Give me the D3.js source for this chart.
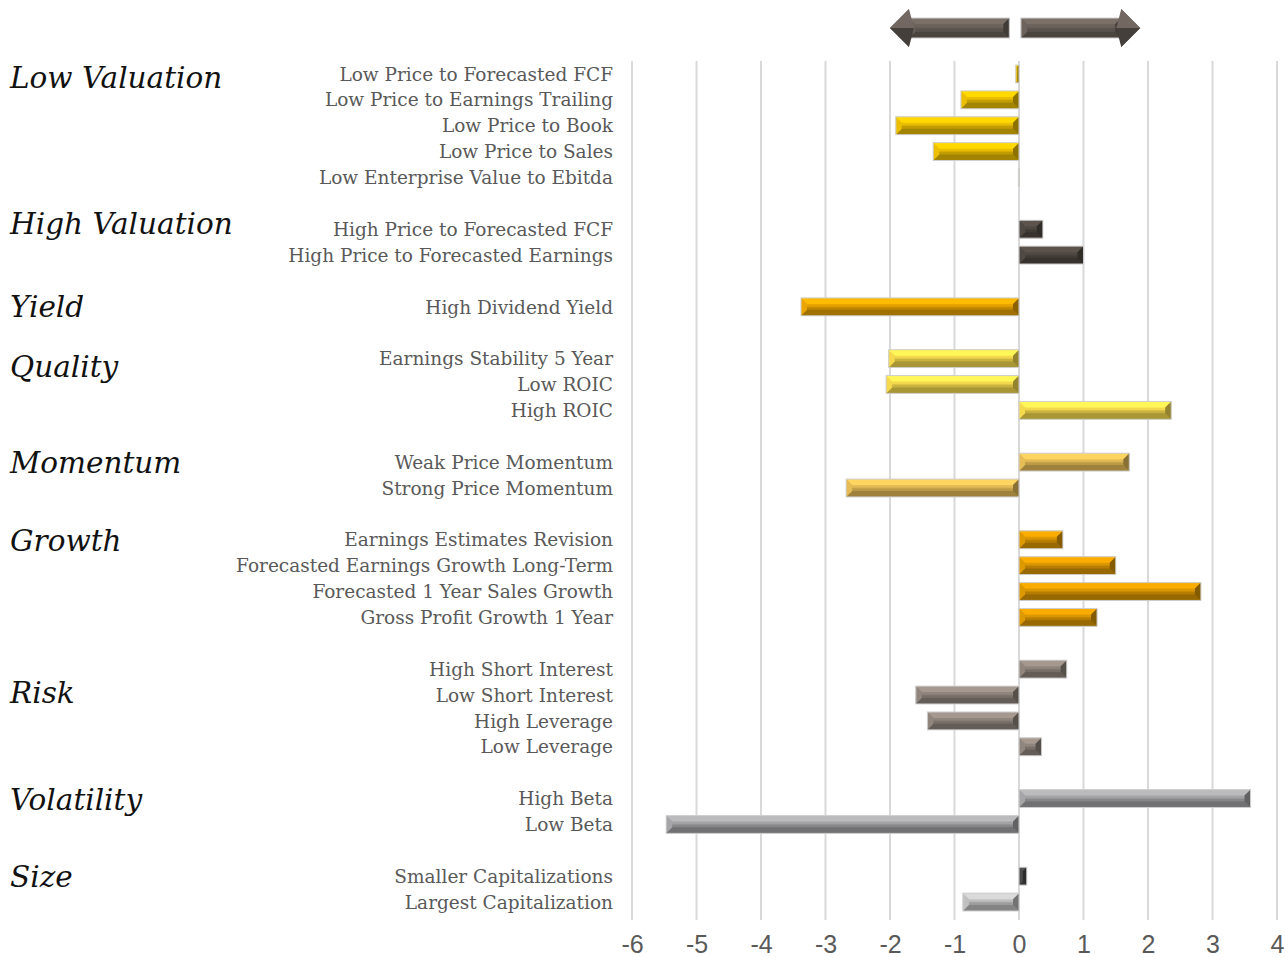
<!DOCTYPE html>
<html>
<head>
<meta charset="utf-8">
<script src="https://cdn.jsdelivr.net/npm/d3@7"></script>
<style>
  body { margin: 0; background: #fff; }
  svg { display: block; }
</style>
</head>
<body>
<svg id="chart" width="1285" height="957"></svg>
<script>
// data
const groupNames = ["Low Valuation", "High Valuation", "Yield", "Quality", "Momentum", "Growth", "Risk", "Volatility", "Size"];

const factorNames = [
  "Low Price to Forecasted FCF", "Low Price to Earnings Trailing", "Low Price to Book", "Low Price to Sales", "Low Enterprise Value to Ebitda",
  "High Price to Forecasted FCF", "High Price to Forecasted Earnings",
  "High Dividend Yield",
  "Earnings Stability 5 Year", "Low ROIC", "High ROIC",
  "Weak Price Momentum", "Strong Price Momentum",
  "Earnings Estimates Revision", "Forecasted Earnings Growth Long-Term", "Forecasted 1 Year Sales Growth", "Gross Profit Growth 1 Year",
  "High Short Interest", "Low Short Interest", "High Leverage", "Low Leverage",
  "High Beta", "Low Beta",
  "Smaller Capitalizations", "Largest Capitalization"
];

const factorGroups = [
  "Low Valuation", "Low Valuation", "Low Valuation", "Low Valuation", "Low Valuation",
  "High Valuation", "High Valuation",
  "Yield",
  "Quality", "Quality", "Quality",
  "Momentum", "Momentum",
  "Growth", "Growth", "Growth", "Growth",
  "Risk", "Risk", "Risk", "Risk",
  "Volatility", "Volatility",
  "Size", "Size"
];

const factorScores = [
  -0.05, -0.90, -1.91, -1.33, -0.01,
  0.37, 1.00,
  -3.38,
  -2.02, -2.06, 2.36,
  1.71, -2.68,
  0.68, 1.50, 2.82, 1.21,
  0.74, -1.60, -1.42, 0.35,
  3.59, -5.47,
  0.12, -0.87
];

const xTicks = [-6, -5, -4, -3, -2, -1, 0, 1, 2, 3, 4];

// styling
const groupColor = d3.scaleOrdinal()
  .domain(groupNames)
  .range(["#e8bc00", "#4f4842", "#e6a200", "#f2d64c", "#e2b955", "#d99600", "#8e847c", "#a2a2a4", "#bdbdbd"]);
const rowColorOverride = { "Smaller Capitalizations": "#4a4a4a" };

// a blank row goes between groups
const rows = [];
groupNames.forEach((g, gi) => {
  if (gi > 0) rows.push({ key: "gap" + gi, blank: true });
  factorNames.forEach((n, i) => {
    if (factorGroups[i] === g) rows.push({ key: n, name: n, group: g, value: factorScores[i] });
  });
});

const svg = d3.select("#chart");
const defs = svg.append("defs");

const x = d3.scaleLinear().domain([-6, 4]).range([632, 1277]);
const y = d3.scaleBand()
  .domain(rows.map(d => d.key))
  .range([61, 915])
  .paddingInner(0.31)
  .paddingOuter(0.155);

// grid lines
svg.append("g").selectAll("line")
  .data(xTicks).enter().append("line")
  .attr("x1", d => x(d)).attr("x2", d => x(d))
  .attr("y1", 61).attr("y2", 920)
  .attr("stroke", "#d9d9d9")
  .attr("stroke-width", 2);

// axis labels
const axis = svg.append("g")
  .attr("transform", "translate(0,934)")
  .call(d3.axisBottom(x).tickValues(xTicks).tickSize(0).tickPadding(0).tickFormat(d3.format("d")));
axis.select(".domain").remove();
axis.selectAll("text")
  .attr("fill", "#595959")
  .style("font-family", "'Liberation Sans', Arial, sans-serif")
  .style("font-size", "25px")
  .attr("dy", "0.75em")
  .text(d => d < 0 ? "-" + Math.abs(d) : d);

// gradient per colour, so the middle of the bar looks lit from above
function gradFor(c) {
  const id = "g" + c.replace("#", "");
  if (defs.select("#" + id).empty()) {
    const base = d3.color(c);
    const lg = defs.append("linearGradient").attr("id", id).attr("x1", 0).attr("y1", 0).attr("x2", 0).attr("y2", 1);
    lg.append("stop").attr("offset", "0%").attr("stop-color", base.brighter(0.2));
    lg.append("stop").attr("offset", "45%").attr("stop-color", base);
    lg.append("stop").attr("offset", "55%").attr("stop-color", base.darker(0.5));
    lg.append("stop").attr("offset", "100%").attr("stop-color", base.darker(0.7));
  }
  return "url(#" + id + ")";
}

// bevelled bar like the excel 3d look
function bevelBar(g, x0, x1, y0, h, c) {
  const w = x1 - x0;
  const b = Math.min(6, w / 2, h / 2);
  const base = d3.color(c);
  const y1 = y0 + h;
  g.append("rect").attr("x", x0).attr("y", y0).attr("width", w).attr("height", h)
    .attr("fill", gradFor(c));
  const poly = (pts, fill) => g.append("polygon").attr("points", pts.map(p => p.join(",")).join(" ")).attr("fill", fill);
  poly([[x0, y0], [x1, y0], [x1 - b, y0 + b], [x0 + b, y0 + b]], base.brighter(0.4));
  poly([[x0, y1], [x1, y1], [x1 - b, y1 - b], [x0 + b, y1 - b]], base.darker(1.0));
  poly([[x0, y0], [x0 + b, y0 + b], [x0 + b, y1 - b], [x0, y1]], base.brighter(0.05));
  poly([[x1, y0], [x1 - b, y0 + b], [x1 - b, y1 - b], [x1, y1]], base.darker(1.4));
  g.append("rect").attr("x", x0).attr("y", y0).attr("width", w).attr("height", h)
    .attr("fill", "none").attr("stroke", "#cfcfcf").attr("stroke-width", 1);
}

const bars = svg.append("g");
rows.filter(d => !d.blank).forEach(d => {
  const c = rowColorOverride[d.name] || groupColor(d.group);
  const x0 = Math.min(x(0), x(d.value)), x1 = Math.max(x(0), x(d.value));
  bevelBar(bars.append("g"), x0, Math.max(x1, x0 + 1), y(d.key), y.bandwidth(), c);
});

// factor names
svg.append("g").selectAll("text")
  .data(rows.filter(d => !d.blank)).enter().append("text")
  .attr("x", 613)
  .attr("y", d => y(d.key) + y.bandwidth() / 2)
  .attr("dy", "0.36em")
  .attr("text-anchor", "end")
  .attr("fill", "#595959")
  .style("font-family", "'DejaVu Serif', Georgia, serif")
  .style("font-size", "18.5px")
  .text(d => d.name);

// group titles, nudged a bit like the original
const titleNudge = { "Low Valuation": 3, "High Valuation": -6, "Yield": 0, "Quality": 8, "Momentum": 0, "Growth": 1, "Risk": 23, "Volatility": 1, "Size": 0 };
svg.append("g").selectAll("text")
  .data(groupNames).enter().append("text")
  .attr("x", 10)
  .attr("y", g => {
    const first = rows.find(r => r.group === g);
    return y(first.key) + y.bandwidth() / 2 + (titleNudge[g] || 0);
  })
  .attr("dy", "0.36em")
  .attr("fill", "#111")
  .style("font-family", "'DejaVu Serif', Georgia, serif")
  .style("font-style", "italic")
  .style("font-size", "29.5px")
  .text(g => g);

// the two arrows on top
function arrow(xa, xb, dir) {
  const g = svg.append("g");
  const c = "#6a615a";
  const top = 18, bot = 38, head = 19;
  const s = dir > 0 ? -1 : 1;
  if (dir > 0) bevelBar(g, xa, xb - head, top, bot - top, c);
  else bevelBar(g, xb + head, xa, top, bot - top, c);
  const hb = xb + s * head;
  g.append("polygon").attr("points", [[hb, 9], [xb, 28], [hb, 47]].map(p => p.join(",")).join(" "))
    .attr("fill", d3.color(c).darker(0.5));
  g.append("polygon").attr("points", [[hb, 9], [xb, 28], [hb + s * 5, 28]].map(p => p.join(",")).join(" "))
    .attr("fill", d3.color(c).brighter(0.2));
  g.append("polygon").attr("points", [[hb, 47], [xb, 28], [hb + s * 5, 28]].map(p => p.join(",")).join(" "))
    .attr("fill", d3.color(c).darker(1.2));
}
arrow(x(-0.15), x(-2.0), -1);
arrow(x(0.03), x(1.88), 1);
</script>
</body>
</html>
